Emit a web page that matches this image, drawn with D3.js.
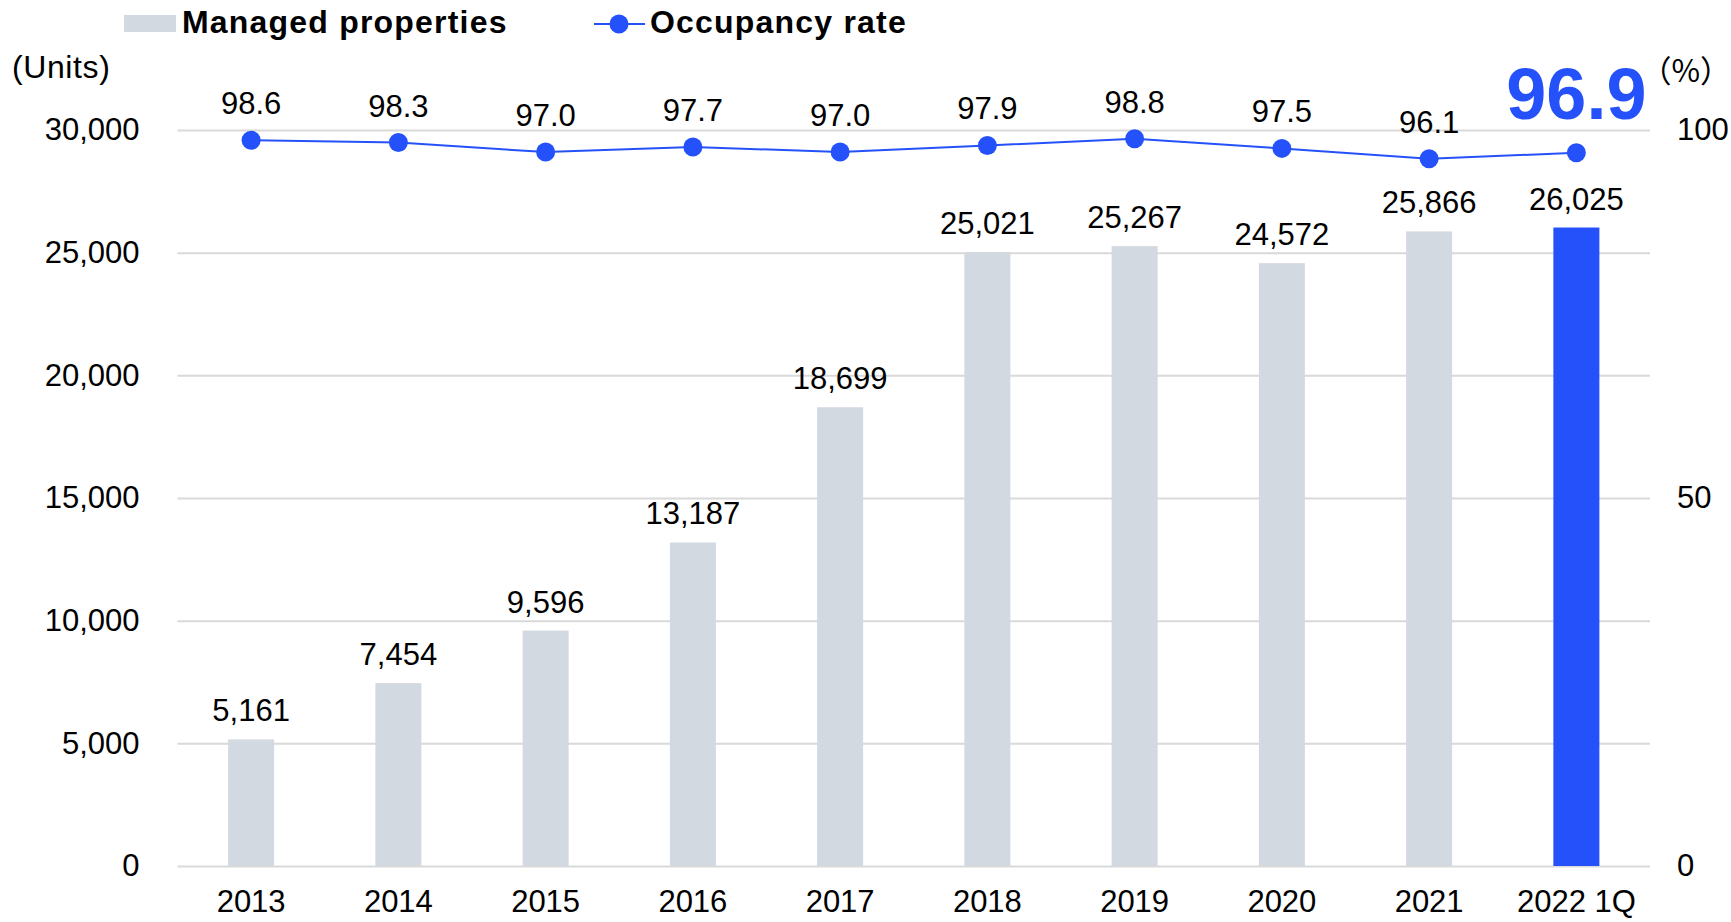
<!DOCTYPE html>
<html>
<head>
<meta charset="utf-8">
<script src="https://cdn.jsdelivr.net/npm/d3@7"></script>
<style>
  html, body { margin: 0; padding: 0; background: #fff; }
  svg { display: block; }
  text { font-family: "Liberation Sans", Arial, sans-serif; fill: #000; }
</style>
</head>
<body>
<svg id="chart" width="1731" height="922"></svg>
<script>
const categories = ["2013", "2014", "2015", "2016", "2017", "2018", "2019", "2020", "2021", "2022 1Q"];
const managedProperties = [5161, 7454, 9596, 13187, 18699, 25021, 25267, 24572, 25866, 26025];
const occupancyRate = [98.6, 98.3, 97.0, 97.7, 97.0, 97.9, 98.8, 97.5, 96.1, 96.9];
const leftTicks = [0, 5000, 10000, 15000, 20000, 25000, 30000];
const rightTicks = [0, 50, 100];

const BLUE = "#2551fb";
const GRAY = "#d3d9e1";
const GRID = "#d9d9d9";

const svg = d3.select("#chart");
const pLeft = 177.5, pRight = 1650, pTop = 130, pBottom = 866;

const x = d3.scaleBand().domain(categories).range([pLeft, pRight]).paddingInner(0.6875).paddingOuter(0.34375);
const yL = d3.scaleLinear().domain([0, 30000]).range([pBottom, pTop]);
const yR = d3.scaleLinear().domain([0, 100]).range([pBottom, pTop]);

// gridlines
svg.append("g")
  .attr("transform", `translate(${pLeft},0)`)
  .call(d3.axisLeft(yL).tickValues(leftTicks).tickSize(-(pRight - pLeft)).tickFormat(""))
  .call(g => g.select(".domain").remove())
  .call(g => g.selectAll("line").attr("stroke", GRID).attr("stroke-width", 2));

// left axis labels
svg.append("g")
  .attr("transform", `translate(${pLeft},0)`)
  .call(d3.axisLeft(yL).tickValues(leftTicks).tickSize(0).tickPadding(38).tickFormat(d3.format(",")))
  .call(g => g.select(".domain").remove())
  .call(g => g.selectAll("text").attr("font-size", 31).attr("font-family", "Liberation Sans, Arial, sans-serif").attr("fill", "#000"));

// right axis labels
svg.append("g")
  .attr("transform", `translate(${pRight},0)`)
  .call(d3.axisRight(yR).tickValues(rightTicks).tickSize(0).tickPadding(27).tickFormat(d3.format("d")))
  .call(g => g.select(".domain").remove())
  .call(g => g.selectAll("text").attr("font-size", 31).attr("font-family", "Liberation Sans, Arial, sans-serif").attr("fill", "#000"));

// bottom axis labels
svg.append("g")
  .attr("transform", `translate(0,${pBottom})`)
  .call(d3.axisBottom(x).tickSize(0).tickPadding(24))
  .call(g => g.select(".domain").remove())
  .call(g => g.selectAll("text").attr("font-size", 31).attr("font-family", "Liberation Sans, Arial, sans-serif").attr("fill", "#000"));

// bars
svg.append("g").selectAll("rect")
  .data(categories)
  .join("rect")
  .attr("x", d => x(d))
  .attr("width", x.bandwidth())
  .attr("y", (d, i) => yL(managedProperties[i]))
  .attr("height", (d, i) => pBottom - yL(managedProperties[i]))
  .attr("fill", (d, i) => i === categories.length - 1 ? BLUE : GRAY);

// bar labels
svg.append("g").selectAll("text")
  .data(categories)
  .join("text")
  .attr("x", d => x(d) + x.bandwidth() / 2)
  .attr("y", (d, i) => yL(managedProperties[i]) - 18)
  .attr("text-anchor", "middle")
  .attr("font-size", 31)
  .text((d, i) => d3.format(",")(managedProperties[i]));

// line
const cx = d => x(d) + x.bandwidth() / 2;
svg.append("path")
  .datum(categories)
  .attr("fill", "none")
  .attr("stroke", BLUE)
  .attr("stroke-width", 2)
  .attr("d", d3.line().x(d => cx(d)).y((d, i) => yR(occupancyRate[i])));

svg.append("g").selectAll("circle")
  .data(categories)
  .join("circle")
  .attr("cx", d => cx(d))
  .attr("cy", (d, i) => yR(occupancyRate[i]))
  .attr("r", 9.5)
  .attr("fill", BLUE);

// line labels
svg.append("g").selectAll("text")
  .data(categories)
  .join("text")
  .attr("x", d => cx(d))
  .attr("y", (d, i) => i === categories.length - 1 ? 119 : yR(occupancyRate[i]) - 26)
  .attr("text-anchor", "middle")
  .attr("font-size", (d, i) => i === categories.length - 1 ? 72 : 31)
  .attr("font-weight", (d, i) => i === categories.length - 1 ? "bold" : "normal")
  .style("fill", (d, i) => i === categories.length - 1 ? BLUE : "#000")
  .text((d, i) => d3.format(".1f")(occupancyRate[i]));

// unit labels
svg.append("text").attr("x", 12).attr("y", 78).attr("font-size", 32).style("letter-spacing", "0.6px").text("(Units)");
svg.append("text").attr("x", 1731).attr("y", 82).attr("text-anchor", "end").attr("font-size", 31)
  .style("font-family", "'Noto Sans CJK JP', 'Liberation Sans', sans-serif").text("（%）");

// legend
const lg = svg.append("g");
lg.append("rect").attr("x", 124).attr("y", 15).attr("width", 52).attr("height", 17).attr("fill", GRAY);
lg.append("text").attr("x", 182).attr("y", 33).attr("font-size", 32).attr("font-weight", "bold")
  .style("letter-spacing", "1.2px").text("Managed properties");
lg.append("line").attr("x1", 594).attr("x2", 645).attr("y1", 24).attr("y2", 24).attr("stroke", BLUE).attr("stroke-width", 2);
lg.append("circle").attr("cx", 619).attr("cy", 24).attr("r", 9.5).attr("fill", BLUE);
lg.append("text").attr("x", 650).attr("y", 33).attr("font-size", 32).attr("font-weight", "bold")
  .style("letter-spacing", "1.2px").text("Occupancy rate");
</script>
</body>
</html>
